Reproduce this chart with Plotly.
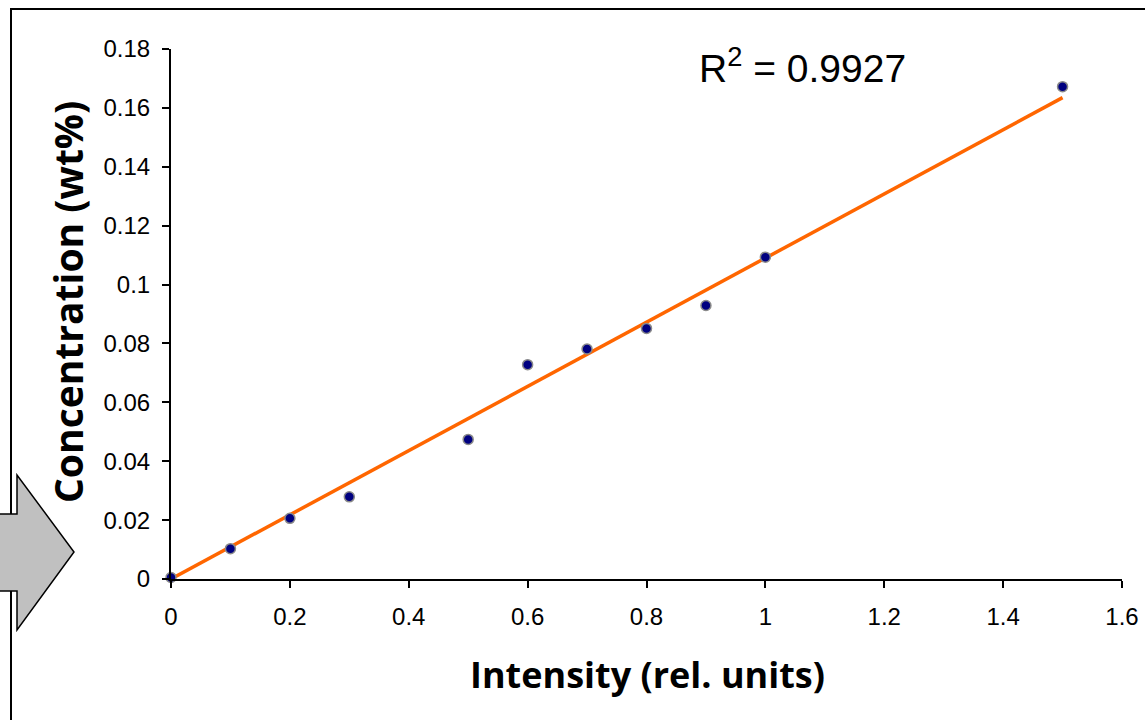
import numpy as np
import plotly.graph_objects as go

# ---- data ----
intensity = [0.0, 0.1, 0.2, 0.3, 0.5, 0.6, 0.7, 0.8, 0.9, 1.0, 1.5]
concentration = [0.0005, 0.0103, 0.0206, 0.0279, 0.0474, 0.0728, 0.0781, 0.0851, 0.0929, 0.1093, 0.1672]
x_tickvals = [0, 0.2, 0.4, 0.6, 0.8, 1.0, 1.2, 1.4, 1.6]
x_ticktext = ["0", "0.2", "0.4", "0.6", "0.8", "1", "1.2", "1.4", "1.6"]
y_tickvals = [0, 0.02, 0.04, 0.06, 0.08, 0.10, 0.12, 0.14, 0.16, 0.18]
y_ticktext = ["0", "0.02", "0.04", "0.06", "0.08", "0.1", "0.12", "0.14", "0.16", "0.18"]
r2_label = "R<sup>2</sup> = 0.9927"
x_title = "Intensity (rel. units)"
y_title = "Concentration (wt%)"

# linear trendline through origin
xa = np.array(intensity)
ya = np.array(concentration)
slope = float((xa * ya).sum() / (xa * xa).sum())
fit_x = [float(xa.min()), float(xa.max())]
fit_y = [slope * v for v in fit_x]

# ---- layout geometry (pixels) ----
W, H = 1145, 720
L, R, T, B = 171, 1122, 49, 579


def px(v):
    return (v - L) / (R - L)


def py(v):
    return (B - v) / (B - T)


fig = go.Figure()
fig.add_trace(go.Scatter(x=fit_x, y=fit_y, mode="lines",
                         line=dict(color="#FF6600", width=3.5), showlegend=False,
                         hoverinfo="skip"))
fig.add_trace(go.Scatter(x=intensity, y=concentration, mode="markers",
                         marker=dict(color="#000080", size=10,
                                     line=dict(color="#8a8a8a", width=1.5)),
                         showlegend=False, cliponaxis=False))

shapes = [
    # outer frame
    dict(type="rect", xref="paper", yref="paper",
         x0=px(11), x1=px(1170), y0=py(9), y1=py(745),
         line=dict(color="black", width=2), fillcolor="rgba(0,0,0,0)", layer="below"),
    # grey arrow
    dict(type="path", xref="paper", yref="paper",
         path=(f"M {px(-10)},{py(514)} L {px(17)},{py(514)} L {px(17)},{py(475)} "
               f"L {px(74)},{py(552)} L {px(17)},{py(630)} L {px(17)},{py(591)} "
               f"L {px(-10)},{py(591)} Z"),
         fillcolor="#C0C0C0", line=dict(color="black", width=1.5), layer="above"),
]

annotations = [
    dict(text=r2_label, xref="paper", yref="paper", x=px(697), y=py(65),
         xanchor="left", yanchor="middle", showarrow=False,
         font=dict(family="Liberation Sans, Arial", size=39, color="black")),
    dict(text=f"<b>{x_title}</b>", xref="paper", yref="paper", x=px(647), y=py(674),
         xanchor="center", yanchor="middle", showarrow=False,
         font=dict(family="Open Sans", size=36, color="black")),
    dict(text=f"<b>{y_title}</b>", xref="paper", yref="paper", x=px(67), y=py(302),
         xanchor="center", yanchor="middle", showarrow=False, textangle=-90,
         font=dict(family="Open Sans", size=39, color="black")),
]

axis_common = dict(showgrid=False, zeroline=False, showline=True, linecolor="black",
                   linewidth=2, ticks="outside", ticklen=7, tickwidth=2, tickcolor="black",
                   tickfont=dict(family="Liberation Sans, Arial", size=24, color="black"),
                   automargin=False)

fig.update_layout(
    width=W, height=H,
    margin=dict(l=L, r=W - R, t=T, b=H - B, pad=0),
    paper_bgcolor="white", plot_bgcolor="white",
    xaxis=dict(range=[0, 1.6], tickvals=x_tickvals, ticktext=x_ticktext,
               ticklabelstandoff=8, **axis_common),
    yaxis=dict(range=[0, 0.18], tickvals=y_tickvals, ticktext=y_ticktext,
               ticklabelstandoff=7, **axis_common),
    shapes=shapes,
    annotations=annotations,
)

fig.write_html("out.html")
